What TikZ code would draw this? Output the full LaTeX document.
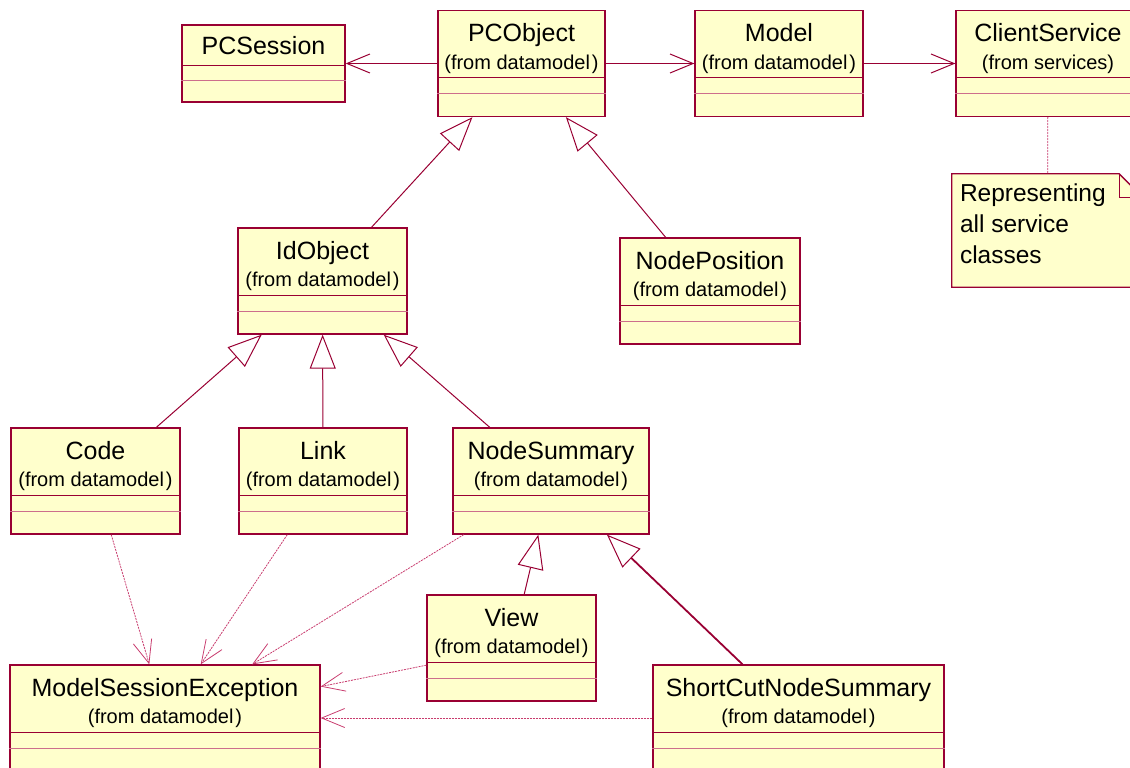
\documentclass[tikz,border=0pt]{standalone}
\usepackage{amsmath, amssymb, tikz}
\usepackage{fontspec}
\setmainfont{Liberation Sans}
\usetikzlibrary{arrows.meta}

\definecolor{umlred}{RGB}{153,0,51}
\definecolor{umlpink}{RGB}{205,110,140}
\definecolor{umlfill}{RGB}{255,255,204}
\definecolor{deplink}{RGB}{200,60,110}

\tikzset{
  class/.style={rectangle, draw=umlred, fill=umlfill, line width=1.3pt, inner sep=0pt},
  cname/.style={anchor=base, inner sep=0pt, font=\fontsize{25}{30}\selectfont},
  cfrom/.style={anchor=base, inner sep=0pt, font=\fontsize{20}{24}\selectfont},
  sepline/.style={draw=umlred, line width=1pt},
  assoc/.style={draw=umlred, line width=1pt, -{Straight Barb[length=23pt, width=19pt, line width=1pt]}},
  inherit/.style={draw=umlred, line width=1pt, -{Triangle[open, length=34pt, width=26pt, line width=1pt]}},
  depend/.style={draw=deplink, line width=0.8pt, dash pattern=on 2pt off 1pt, -{Straight Barb[length=23pt, width=19pt, line width=0.8pt]}},
  notelink/.style={draw=deplink, line width=0.8pt, dash pattern=on 2pt off 1pt}
}

\begin{document}
\begin{tikzpicture}[x=1pt, y=-1pt]
    \useasboundingbox (0,0) rectangle (1130,768);

    % Nodes
    \node[class, minimum width=163pt, minimum height=77pt] (PCSession) at (263.5,63.5) {};
    \node[class, minimum width=167pt, minimum height=106pt] (PCObject) at (521.5,63.5) {};
    \node[class, minimum width=168pt, minimum height=106pt] (Model) at (779,63.5) {};
    \node[class, minimum width=184pt, minimum height=106pt] (ClientService) at (1048,63.5) {};
    \node[rectangle, inner sep=0pt, minimum width=191pt, minimum height=113pt] (ServiceNote) at (1047.5,230.5) {};
    \node[class, minimum width=169pt, minimum height=106pt] (IdObject) at (322.5,281) {};
    \node[class, minimum width=180pt, minimum height=106pt] (NodePosition) at (710,291) {};
    \node[class, minimum width=169pt, minimum height=106pt] (Code) at (95.5,481) {};
    \node[class, minimum width=168pt, minimum height=106pt] (Link) at (323,481) {};
    \node[class, minimum width=196pt, minimum height=106pt] (NodeSummary) at (551,481) {};
    \node[class, minimum width=169pt, minimum height=106pt] (View) at (511.5,648) {};
    \node[class, minimum width=310pt, minimum height=106pt] (ModelSessionException) at (165,718) {};
    \node[class, minimum width=291pt, minimum height=106pt] (ShortCutNodeSummary) at (798.5,718) {};

    % Class names and compartments
    \node[cname] (PCSession-name) at ([yshift=-30.5pt]PCSession.north) {PCSession};
    \draw[sepline] ([yshift=-41pt]PCSession.north west) -- ([yshift=-41pt]PCSession.north east);
    \draw[sepline, umlpink] ([yshift=-56pt]PCSession.north west) -- ([yshift=-56pt]PCSession.north east);
    \foreach \n/\s in {PCObject/datamodel\kern2pt, Model/datamodel\kern2pt, ClientService/services,
        IdObject/datamodel\kern2pt, NodePosition/datamodel\kern2pt, Code/datamodel\kern2pt,
        Link/datamodel\kern2pt, NodeSummary/datamodel\kern2pt, View/datamodel\kern2pt,
        ModelSessionException/datamodel\kern2pt, ShortCutNodeSummary/datamodel\kern2pt} {
      \node[cname] (\n-name) at ([yshift=-32pt]\n.north) {\n};
      \node[cfrom] (\n-from) at ([yshift=-59.5pt]\n.north) {(from \s)};
      \draw[sepline] ([yshift=-68pt]\n.north west) -- ([yshift=-68pt]\n.north east);
      \draw[sepline, umlpink] ([yshift=-84pt]\n.north west) -- ([yshift=-84pt]\n.north east);
    }

    % Note
    \draw[umlred, fill=umlfill, line width=1.3pt] (ServiceNote.north west) -- ([xshift=-24pt]ServiceNote.north east)
      -- ([yshift=-24pt]ServiceNote.north east) -- (ServiceNote.south east) -- (ServiceNote.south west) -- cycle;
    \draw[umlred, line width=1pt] ([xshift=-24pt]ServiceNote.north east) -- ([xshift=-24pt, yshift=-24pt]ServiceNote.north east)
      -- ([yshift=-24pt]ServiceNote.north east);
    \node[anchor=north west, inner sep=0pt, align=left, font=\fontsize{24.5}{31}\selectfont] (ServiceNote-text)
      at ([xshift=8pt, yshift=-10pt]ServiceNote.north west) {Representing\\all service\\classes};

    % Edges
    \draw[assoc] (PCObject) -- (PCSession);
    \draw[assoc] (PCObject) -- (Model);
    \draw[assoc] (Model) -- (ClientService);
    \draw[notelink] (ClientService) -- (ServiceNote);

    \draw[inherit] (IdObject) -- (PCObject);
    \draw[inherit] (NodePosition) -- (PCObject);
    \draw[inherit] (Code) -- (IdObject);
    \draw[inherit] (Link) -- (IdObject);
    \draw[inherit] (NodeSummary) -- (IdObject);
    \draw[inherit] (View) -- (NodeSummary);
    \draw[inherit, line width=1.8pt] (ShortCutNodeSummary) -- (NodeSummary);

    \draw[depend] (Code) -- (ModelSessionException);
    \draw[depend] (Link) -- (ModelSessionException);
    \draw[depend] (NodeSummary) -- (ModelSessionException);
    \draw[depend] (View) -- (ModelSessionException);
    \draw[depend] (ShortCutNodeSummary) -- (ModelSessionException);
  \end{tikzpicture}
\end{document}
